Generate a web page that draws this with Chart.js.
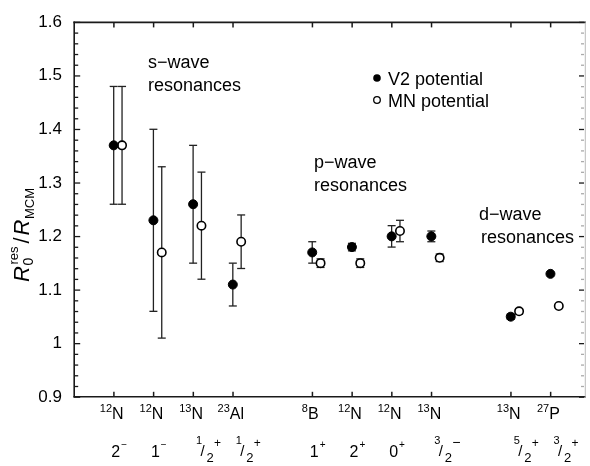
<!DOCTYPE html>
<html>
<head>
<meta charset="utf-8">
<script src="https://cdn.jsdelivr.net/npm/chart.js@4.4.1/dist/chart.umd.min.js"></script>
<style>
  html, body { margin: 0; padding: 0; background: #fff; overflow: hidden; }
  #wrap { width: 590px; height: 466px; }
  canvas { display: block; }
</style>
</head>
<body>
<div id="wrap"><canvas id="chart" width="590" height="466"></canvas></div>
<script>
// x slot of each resonance (gaps at 5 and 10 split s / p / d waves)
const positions = [1, 2, 3, 4, 6, 7, 8, 9, 11, 12]
const massNumbers = ['12', '12', '13', '23', '8', '12', '12', '13', '13', '27']
const elements = ['N', 'N', 'N', 'Al', 'B', 'N', 'N', 'N', 'N', 'P']
const spinNum = ['2', '1', '1', '1', '1', '2', '0', '3', '5', '3']
const spinDen = ['', '', '2', '2', '', '', '', '2', '2', '2']
const parity = ['−', '−', '+', '+', '+', '+', '+', '−', '+', '+']

const v2Values = [1.37, 1.23, 1.26, 1.11, 1.17, 1.18, 1.20, 1.20, 1.05, 1.13]
const v2Errors = [0.11, 0.17, 0.11, 0.04, 0.02, 0.007, 0.02, 0.01, 0.005, 0]
const mnValues = [1.37, 1.17, 1.22, 1.19, 1.15, 1.15, 1.21, 1.16, 1.06, 1.07]
const mnErrors = [0.11, 0.16, 0.10, 0.05, 0.008, 0.008, 0.02, 0.007, 0.005, 0]
const mnShift = 0.21

const xMin = 0
const xMax = 12.85
const yMin = 0.9
const yMax = 1.6
const yTicks = [0.9, 1.0, 1.1, 1.2, 1.3, 1.4, 1.5, 1.6]

const FONT = '"Liberation Sans", Arial, Helvetica, sans-serif'
const INK = '#1a1a1a'

function line (ctx, x1, y1, x2, y2) {
  ctx.beginPath()
  ctx.moveTo(x1, y1)
  ctx.lineTo(x2, y2)
  ctx.stroke()
}

// error bars under the points, frame and inward ticks on top of everything
const errorBars = {
  id: 'errorBars',
  beforeDatasetsDraw (chart) {
    const ctx = chart.ctx
    const y = chart.scales.y
    ctx.save()
    ctx.strokeStyle = '#222'
    ctx.lineWidth = 1.3
    chart.data.datasets.forEach((ds, i) => {
      const meta = chart.getDatasetMeta(i)
      meta.data.forEach((pt, j) => {
        const e = ds.errors[j]
        if (!e) return
        const v = ds.data[j].y
        const top = y.getPixelForValue(v + e)
        const bot = y.getPixelForValue(v - e)
        line(ctx, pt.x, top, pt.x, bot)
        line(ctx, pt.x - 4, top, pt.x + 4, top)
        line(ctx, pt.x - 4, bot, pt.x + 4, bot)
      })
    })
    ctx.restore()
  },
  afterDraw (chart) {
    const ctx = chart.ctx
    const xs = chart.scales.x
    const ys = chart.scales.y
    const L = xs.getPixelForValue(xMin) + 0.2
    const R = xs.getPixelForValue(xMax) - 0.2
    const T = ys.getPixelForValue(yMax) + 0.2
    const B = ys.getPixelForValue(yMin) - 0.2
    ctx.save()
    ctx.strokeStyle = INK
    ctx.lineWidth = 1.6
    ctx.lineCap = 'square'
    line(ctx, L, T, R + 1, T)
    line(ctx, L, B, R + 1, B)
    line(ctx, L, T, L, B)
    ctx.lineCap = 'butt'
    ctx.strokeStyle = '#bbb'
    ctx.lineWidth = 1
    line(ctx, R + 1.3, T, R + 1.3, B)
    for (let k = 0; k <= 35; k++) {
      const py = ys.getPixelForValue(yMin + k * 0.02) + 0.2
      const major = k % 5 === 0
      ctx.lineWidth = 1.3
      ctx.strokeStyle = INK
      line(ctx, L, py, L + (major ? 6 : 4), py)
      ctx.strokeStyle = major ? INK : '#aaa'
      line(ctx, R, py, R - (major ? 5 : 3), py)
    }
    ctx.strokeStyle = INK
    ctx.lineWidth = 1.5
    positions.forEach(p => {
      const px = xs.getPixelForValue(p) + 0.2
      line(ctx, px, B, px, B - 5)
      line(ctx, px, T, px, T + 5)
    })
    ctx.restore()
  }
}

function drawNucleus (ctx, cx, mass, el) {
  ctx.font = '11px ' + FONT
  const wm = ctx.measureText(mass).width
  ctx.font = '16px ' + FONT
  const we = ctx.measureText(el).width
  const x0 = cx - (wm + we) / 2 - 2
  ctx.font = '11px ' + FONT
  ctx.fillText(mass, x0, 412)
  ctx.font = '16px ' + FONT
  ctx.fillText(el, x0 + wm, 419)
}

function drawSpin (ctx, cx, num, den, par) {
  if (!den) {
    ctx.font = '16px ' + FONT
    const w = ctx.measureText(num).width
    const x0 = cx + 2 - w / 2
    ctx.fillText(num, x0, 457)
    ctx.font = '10px ' + FONT
    ctx.fillText(par, x0 + w + 1, 448)
    return
  }
  ctx.font = '11px ' + FONT
  ctx.fillText(num, cx + 3, 444)
  ctx.font = '15px ' + FONT
  ctx.fillText('/', cx + 7.5, 456)
  ctx.font = '13px ' + FONT
  ctx.fillText(den, cx + 13.5, 462)
  ctx.font = (par === '−' ? '14px ' : '12px ') + FONT
  ctx.fillText(par, cx + 21, 447)
}

const decor = {
  id: 'decor',
  afterDraw (chart) {
    const ctx = chart.ctx
    const xs = chart.scales.x
    ctx.save()

    // x labels: nucleus and spin-parity
    ctx.fillStyle = '#000'
    ctx.strokeStyle = '#000'
    ctx.textBaseline = 'alphabetic'
    ctx.textAlign = 'left'
    positions.forEach((p, i) => {
      const px = xs.getPixelForValue(p)
      drawNucleus(ctx, px, massNumbers[i], elements[i])
      drawSpin(ctx, px, spinNum[i], spinDen[i], parity[i])
    })

    // group notes
    ctx.font = '18px ' + FONT
    ctx.fillText('s−wave', 148, 68)
    ctx.fillText('resonances', 148, 91)
    ctx.fillText('p−wave', 314, 168)
    ctx.fillText('resonances', 314, 191)
    ctx.fillText('d−wave', 479, 220)
    ctx.fillText('resonances', 481, 243)

    // legend
    ctx.fillText('V2 potential', 388, 85)
    ctx.fillText('MN potential', 388, 107)
    ctx.beginPath()
    ctx.arc(377, 78, 3.8, 0, Math.PI * 2)
    ctx.fill()
    ctx.beginPath()
    ctx.arc(377, 100, 3.3, 0, Math.PI * 2)
    ctx.lineWidth = 1.3
    ctx.stroke()

    // y title  R0^res / R_MCM
    ctx.translate(29, 282)
    ctx.rotate(-Math.PI / 2)
    let cx = 0
    ctx.font = 'italic 22px ' + FONT
    ctx.fillText('R', cx, 0)
    cx += ctx.measureText('R').width + 0.5
    ctx.font = '14px ' + FONT
    ctx.fillText('0', cx, 4)
    const w0 = ctx.measureText('0').width
    ctx.font = '13px ' + FONT
    ctx.fillText('res', cx + 1, -11)
    cx += Math.max(w0, ctx.measureText('res').width + 1) + 3
    ctx.font = '22px ' + FONT
    ctx.fillText('/', cx, 0)
    cx += ctx.measureText('/').width + 2
    ctx.font = 'italic 22px ' + FONT
    ctx.fillText('R', cx, 0)
    cx += ctx.measureText('R').width + 0.5
    ctx.font = '13px ' + FONT
    ctx.fillText('MCM', cx, 5)

    ctx.restore()
  }
}

new Chart(document.getElementById('chart').getContext('2d'), {
  type: 'scatter',
  data: {
    datasets: [
      {
        label: 'V2 potential',
        data: positions.map((p, i) => ({x: p, y: v2Values[i]})),
        errors: v2Errors,
        pointRadius: 4.5,
        backgroundColor: '#000',
        borderColor: '#000',
        borderWidth: 1
      },
      {
        label: 'MN potential',
        data: positions.map((p, i) => ({x: p + mnShift, y: mnValues[i]})),
        errors: mnErrors,
        pointRadius: 4.2,
        backgroundColor: '#fff',
        borderColor: '#000',
        borderWidth: 1.6
      }
    ]
  },
  options: {
    responsive: false,
    animation: false,
    devicePixelRatio: 1,
    clip: false,
    layout: { padding: { top: 11, right: 3, left: 0, bottom: 0 } },
    plugins: {
      legend: { display: false },
      tooltip: { enabled: false },
      title: { display: false }
    },
    scales: {
      x: {
        type: 'linear',
        min: xMin,
        max: xMax,
        afterBuildTicks: s => { s.ticks = positions.map(v => ({value: v})) },
        afterFit: s => { s.height = 69 },
        ticks: { display: false },
        grid: { display: false, drawTicks: false },
        border: { display: false }
      },
      y: {
        min: yMin,
        max: yMax,
        afterBuildTicks: s => { s.ticks = yTicks.map(v => ({value: v})) },
        afterFit: s => { s.width = 74 },
        ticks: {
          padding: 12,
          color: '#000',
          font: { family: FONT, size: 17 },
          callback: v => String(Number(v.toFixed(1)))
        },
        grid: { display: false, drawTicks: false },
        border: { display: false }
      }
    }
  },
  plugins: [errorBars, decor]
})
</script>
</body>
</html>
